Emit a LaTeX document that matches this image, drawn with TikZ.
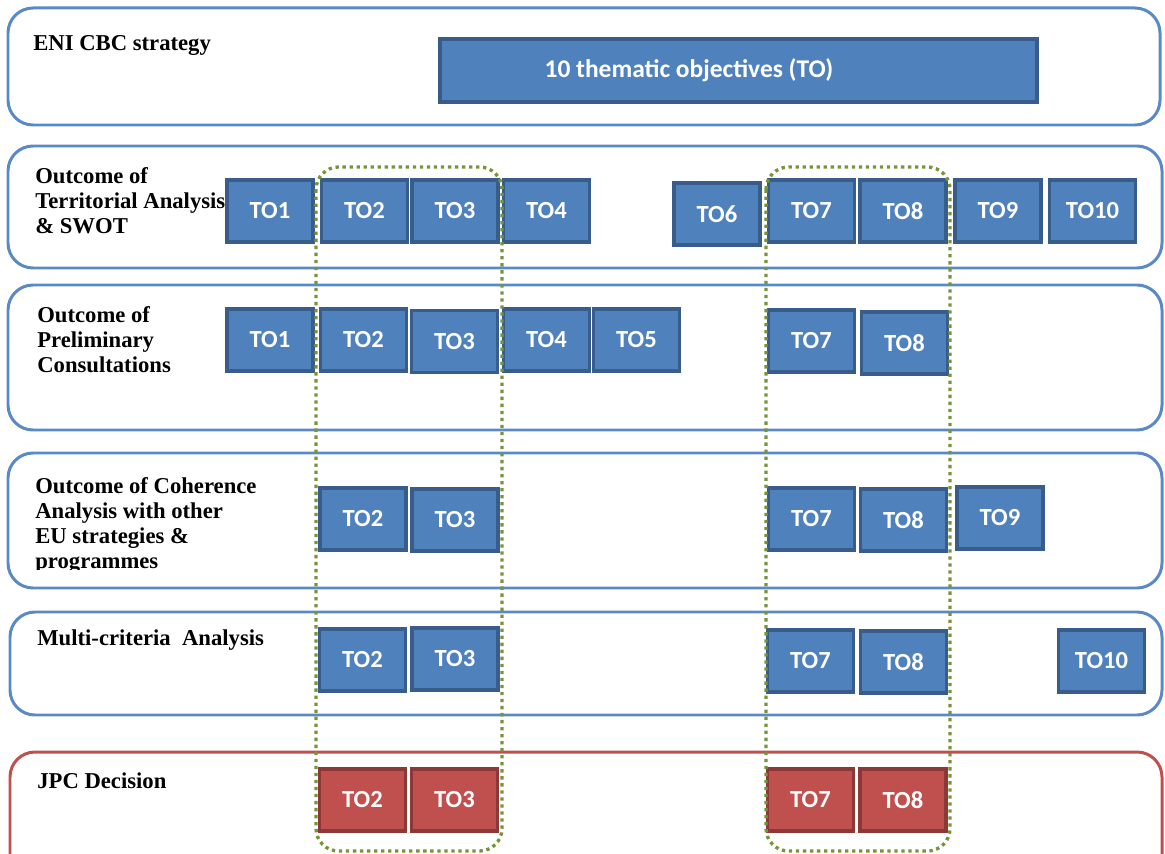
\documentclass[tikz,border=0pt]{standalone}
\usepackage{fontspec}
\setmainfont{Liberation Serif}
\newfontfamily\tofont{Carlito}
\usetikzlibrary{positioning}

\definecolor{toblue}{HTML}{4F81BD}
\definecolor{toblueline}{HTML}{385D8A}
\definecolor{rowblue}{HTML}{5A8AC6}
\definecolor{tored}{HTML}{C0504D}
\definecolor{toredline}{HTML}{8C3836}
\definecolor{pickgreen}{HTML}{77933C}

\tikzset{
  rowbox/.style={draw=rowblue, line width=1.7pt, rounded corners=0.5cm},
  jpcrow/.style={draw=tored, line width=1.7pt, rounded corners=0.5cm},
  rowlabel/.style={anchor=north west, inner sep=0pt, align=left,
    font=\fontsize{12.9}{14.2}\selectfont\bfseries},
  tobox/.style={draw=toblueline, fill=toblue, line width=1.9pt,
    minimum width=1.72cm, minimum height=1.24cm, inner sep=0pt,
    text=white, font=\tofont\fontsize{14}{16}\selectfont\bfseries},
  tored/.style={tobox, draw=toredline, fill=tored},
  pick/.style={draw=pickgreen, line width=1.9pt, dash pattern=on 1.9pt off 2.1pt,
    rounded corners=0.45cm}
}

\begin{document}
\begin{tikzpicture}[x=0.02cm, y=-0.02cm]
\clip (0,0) rectangle (1165,854);

% rows
\draw[rowbox] (8,8) rectangle (1160,125);
\draw[rowbox] (8,146) rectangle (1162,268);
\draw[rowbox] (8,285) rectangle (1162,430);
\draw[rowbox] (8,453) rectangle (1162,588);
\draw[rowbox] (10,612) rectangle (1162,715);
\draw[jpcrow] (10,752) rectangle (1162,880);

% row labels
\node[rowlabel] (eni) at (33,35) {ENI CBC strategy};
\node[rowlabel] (swot) at (35,167) {Outcome of\\Territorial Analysis\\\& SWOT};
\node[rowlabel] (prel) at (37,306) {Outcome of\\Preliminary\\Consultations};
\begin{scope}
\clip (0,453) rectangle (400,569);
\node[rowlabel] (coh) at (35,477) {Outcome of Coherence\\Analysis with other\\EU strategies \&\\programmes};
\end{scope}
\node[rowlabel] (multi) at (37,629) {Multi-criteria\hspace{0.5em}Analysis};
\node[rowlabel] (jpc) at (37,772) {JPC Decision};

% thematic objectives bar
\node[tobox, minimum width=11.94cm, minimum height=1.26cm,
  label={[xshift=-0.99cm, text=white, font=\tofont\fontsize{14.5}{16}\selectfont\bfseries]center:10 thematic objectives (TO)}]
  (tobar) at (738.5,70.5) {};

% territorial analysis
\foreach \n/\x in {1/270,2/364.5,3/455,4/546.5,7/811.5,8/903,9/998,10/1092.5}
  \node[tobox] (swot\n) at (\x,211) {TO\n};
\node[tobox] (swot6) at (717,214) {TO6};

% preliminary consultations
\foreach \n/\x/\y in {1/270/340,2/363.5/340,3/454.5/341.5,4/546.5/340,5/636.5/340,7/811.5/341,8/904.5/343}
  \node[tobox] (prel\n) at (\x,\y) {TO\n};

% coherence analysis
\foreach \n/\x/\y in {2/363/519,3/455/520,7/811.5/519,8/903.5/520,9/1000/518}
  \node[tobox] (coh\n) at (\x,\y) {TO\n};

% multi-criteria
\foreach \n/\x/\y in {2/362.5/660,3/455/659,7/810.5/661,8/903.5/662,10/1101.5/661}
  \node[tobox] (multi\n) at (\x,\y) {TO\n};

% JPC decision
\foreach \n/\x in {2/362.5,3/454.5,7/810.5,8/903}
  \node[tored] (jpc\n) at (\x,800) {TO\n};

% selected objectives
\draw[pick] (316,167) rectangle (502,851);
\draw[pick] (766,167) rectangle (950,851);
\end{tikzpicture}
\end{document}
